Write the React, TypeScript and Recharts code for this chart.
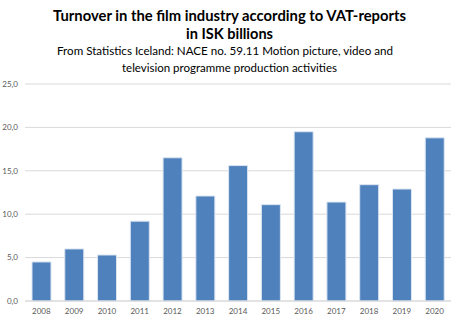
import { BarChart, Bar, XAxis, YAxis, CartesianGrid } from "recharts";

const years = ["2008", "2009", "2010", "2011", "2012", "2013", "2014", "2015", "2016", "2017", "2018", "2019", "2020"];
const turnover = [4.5, 6.0, 5.3, 9.2, 16.5, 12.1, 15.6, 11.1, 19.5, 11.4, 13.4, 12.9, 18.8];
const yTicks = [0, 5, 10, 15, 20, 25];

const titleLines = ["Turnover in the film industry according to VAT-reports", "in ISK billions"];
const subtitleLines = [
  "From Statistics Iceland: NACE no. 59.11 Motion picture, video and",
  "television programme production activities",
];

const data = years.map((y, i) => ({ year: y, value: turnover[i] }));

const FONT = "Lato, 'Open Sans', sans-serif";

export default function App() {
  const tick = { fill: "#595959", fontSize: 8, fontFamily: FONT };
  return (
    <div style={{ position: "absolute", left: 0, top: 0, width: 460, height: 321, background: "#fff" }}>
      <svg width={460} height={80} style={{ position: "absolute", left: 0, top: 0 }}>
        <text x={229.5} y={20.5} textAnchor="middle" fontFamily={FONT} fontWeight="bold" fontSize={15.5}
          textLength={353} lengthAdjust="spacingAndGlyphs" fill="#000">
          {titleLines[0]}
        </text>
        <text x={229.5} y={38.5} textAnchor="middle" fontFamily={FONT} fontWeight="bold" fontSize={15.5}
          textLength={87} lengthAdjust="spacingAndGlyphs" fill="#000">
          {titleLines[1]}
        </text>
        <text x={225} y={55} textAnchor="middle" fontFamily={FONT} fontSize={12}
          textLength={336} lengthAdjust="spacingAndGlyphs" fill="#000">
          {subtitleLines[0]}
        </text>
        <text x={229.5} y={72} textAnchor="middle" fontFamily={FONT} fontSize={12}
          textLength={215} lengthAdjust="spacingAndGlyphs" fill="#000">
          {subtitleLines[1]}
        </text>
      </svg>
      <div style={{ position: "absolute", left: 0, top: 0 }}>
        <BarChart width={460} height={321} data={data} margin={{ top: 84, right: 9, left: 0, bottom: 0 }}>
          <CartesianGrid vertical={false} stroke="#d9d9d9" />
          <XAxis
            dataKey="year"
            height={20}
            tick={tick}
            tickLine={false}
            tickSize={0}
            tickMargin={7}
            axisLine={{ stroke: "#d9d9d9" }}
            interval={0}
          />
          <YAxis
            width={25}
            domain={[0, 25]}
            ticks={yTicks}
            tick={tick}
            tickFormatter={(v: number) => v.toFixed(1).replace(".", ",")}
            tickLine={false}
            tickSize={0}
            tickMargin={7}
            axisLine={false}
          />
          <Bar dataKey="value" fill="#4f81bd" stroke="#dce6f2" strokeWidth={1} barSize={19} isAnimationActive={false} />
        </BarChart>
      </div>
    </div>
  );
}
